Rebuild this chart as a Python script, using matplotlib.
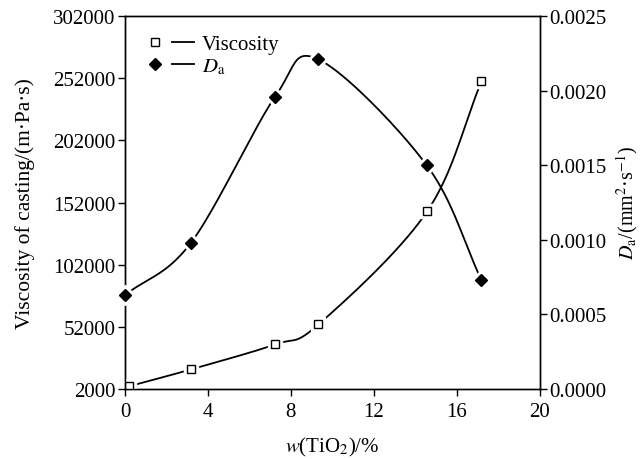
import numpy as np
import matplotlib.pyplot as plt
from matplotlib.lines import Line2D
from matplotlib.legend_handler import HandlerTuple

plt.rcParams['font.family'] = ['Liberation Serif', 'DejaVu Serif']
plt.rcParams['mathtext.fontset'] = 'stix'
plt.rcParams['font.size'] = 15

# data
tio2 = [0.18, 3.18, 7.24, 9.33, 14.57, 17.19]
viscosity = [4200, 17800, 37900, 54000, 144900, 249400]
da_x = [0.0, 3.18, 7.24, 9.32, 14.55, 17.19]
da = [0.00063, 0.00098, 0.00196, 0.00221, 0.00150, 0.00073]


def smooth(x, y, xspan, yspan, n=40):
    # Catmull-Rom curve through the points, done in axes-fraction space
    p = np.column_stack([np.asarray(x, float) / xspan, np.asarray(y, float) / yspan])
    p = np.vstack([2 * p[0] - p[1], p, 2 * p[-1] - p[-2]])
    t = np.linspace(0, 1, n)[:, None]
    out = []
    for i in range(1, len(p) - 2):
        p0, p1, p2, p3 = p[i - 1], p[i], p[i + 1], p[i + 2]
        seg = 0.5 * (2 * p1 + (p2 - p0) * t + (2 * p0 - 5 * p1 + 4 * p2 - p3) * t**2
                     + (3 * p1 - p0 - 3 * p2 + p3) * t**3)
        out.append(seg)
    out = np.vstack(out)
    return out[:, 0] * xspan, out[:, 1] * yspan


fig = plt.figure(figsize=(6.41, 4.6), dpi=100)
ax = fig.add_axes([0.195, 0.152, 0.647, 0.811])
ax2 = ax.twinx()

xs, ys = smooth(tio2, viscosity, 20, 300000)
ax.plot(xs, ys, color='black', lw=1.3, zorder=2)
ax.plot(tio2, viscosity, 's', ms=10, color='white', zorder=3)
ax.plot(tio2, viscosity, 's', ms=6, mfc='white', mec='black', mew=1.0, zorder=4)

xs, ys = smooth(da_x, da, 20, 0.0025)
ax2.plot(xs, ys, color='black', lw=1.3, zorder=2)
ax2.plot(da_x, da, 'D', ms=10, color='white', zorder=3, clip_on=False)
ax2.plot(da_x, da, 'D', ms=6.5, color='black', zorder=4, clip_on=False)

ax.set_xlim(0, 20)
ax.set_ylim(2000, 302000)
ax.set_xticks(np.arange(0, 21, 4))
ax.set_yticks(np.arange(2000, 302001, 50000))
ax2.set_ylim(0, 0.0025)
ax2.set_yticks(np.arange(0, 0.00251, 0.0005))
ax2.set_yticklabels(['%.4f' % v for v in np.arange(0, 0.00251, 0.0005)])

for a in (ax, ax2):
    a.tick_params(direction='out', length=5, width=1.0, labelsize=15, pad=2)
    for s in a.spines.values():
        s.set_linewidth(1.0)
ax.tick_params(axis='x', pad=4)

ax.set_xlabel('$w$(TiO$_2$)/%', fontsize=15, labelpad=10)
ax.set_ylabel('Viscosity of casting/(m·Pa·s)', fontsize=15.5, labelpad=13)
ax2.set_ylabel(r'$D_\mathrm{a}$/(mm$^2$·s$^{-1}$)', fontsize=14.5, labelpad=5)

h1 = (Line2D([], [], ls='none', marker='s', ms=6, mfc='white', mec='black'),
      Line2D([], [], color='black', lw=1.3))
h2 = (Line2D([], [], ls='none', marker='D', ms=6.5, color='black'),
      Line2D([], [], color='black', lw=1.3))
ax.legend([h1, h2], ['Viscosity', r'$D_\mathrm{a}$'], loc='upper left',
          frameon=False, fontsize=15, handlelength=2.4, handletextpad=0.4,
          labelspacing=0.1, borderaxespad=0.6, borderpad=0.3,
          handler_map={tuple: HandlerTuple(ndivide=None, pad=0.3)})

fig.savefig('out.png', dpi=100)
